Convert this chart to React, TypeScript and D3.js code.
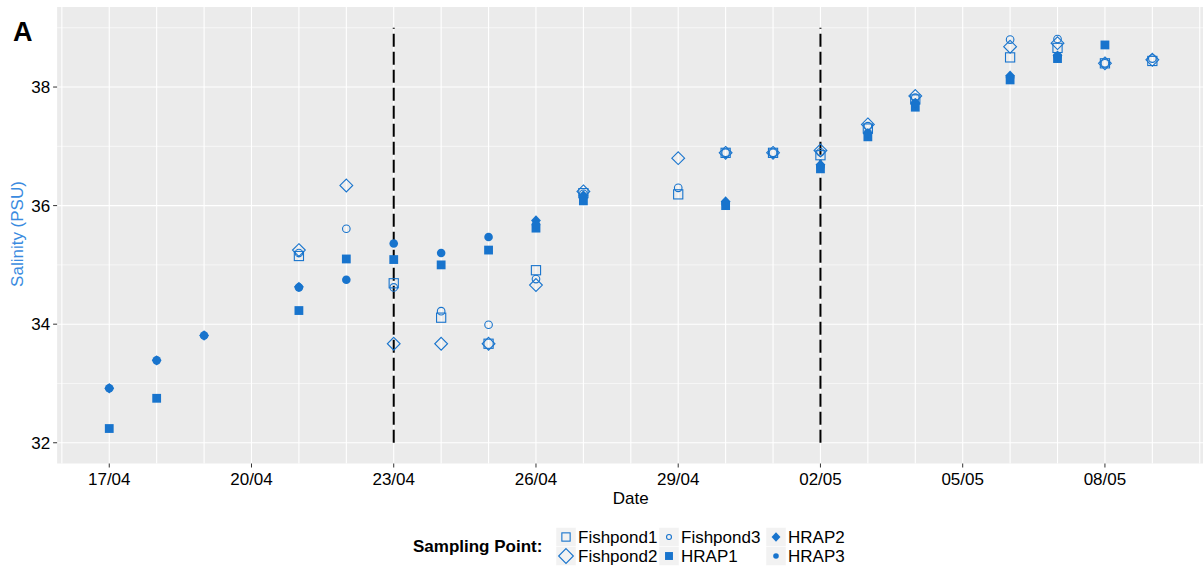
import React from "react";
import * as d3 from "d3";

const dates = ["17/04","18/04","19/04","21/04","22/04","23/04","24/04","25/04","26/04","27/04","29/04","30/04","01/05","02/05","03/05","04/05","06/05","07/05","08/05","09/05"];
const fishpond1 = [null,null,null,35.15,null,34.69,34.11,33.67,34.91,36.21,36.19,36.89,36.89,36.85,37.30,37.79,38.50,38.66,38.40,38.44];
const fishpond2 = [null,null,null,35.25,36.34,33.67,33.67,33.67,34.66,36.24,36.80,36.89,36.89,36.93,37.37,37.85,38.68,38.74,38.40,38.46];
const fishpond3 = [null,null,null,35.20,35.61,34.62,34.22,33.99,34.76,36.20,36.30,36.89,36.89,36.90,37.34,37.82,38.80,38.81,38.40,38.48];
const hrap1 = [32.24,32.75,null,34.23,35.10,35.09,35.00,35.25,35.62,36.08,null,36.00,null,36.62,37.16,37.66,38.12,38.48,38.71,null];
const hrap2 = [32.92,33.39,33.81,34.63,null,null,null,null,35.75,36.17,null,36.07,null,36.69,37.22,37.73,38.19,38.53,null,null];
const hrap3 = [32.92,33.39,33.81,34.62,34.75,35.36,35.20,35.47,35.68,36.14,null,36.03,null,36.66,37.22,37.73,38.16,38.52,null,null];
const xTickLabels = ["17/04","20/04","23/04","26/04","29/04","02/05","05/05","08/05"];
const yTicks = [32, 34, 36, 38];
const yMinor = [33, 35, 37, 39];
const eventDates = ["23/04", "02/05"];
const eventRange = [32, 39];

const seriesNames = ["Fishpond1","Fishpond2","Fishpond3","HRAP1","HRAP2","HRAP3"];
const seriesValues = [fishpond1, fishpond2, fishpond3, hrap1, hrap2, hrap3];

const COLOR = "#1874CD";
const parse = (s: string) => d3.timeParse("%d/%m/%Y")(s + "/2021") as Date;
const DAY = 86400000;

function Marker({ name, x, y, s = 1 }: { name: string; x: number; y: number; s?: number }) {
  const sw = 1.1;
  switch (name) {
    case "Fishpond1": {
      const h = 4.6 * s;
      return <rect x={x - h} y={y - h} width={2 * h} height={2 * h} fill="none" stroke={COLOR} strokeWidth={sw} />;
    }
    case "Fishpond2": {
      const h = 6.4 * s;
      return <path d={`M${x},${y - h}L${x + h},${y}L${x},${y + h}L${x - h},${y}Z`} fill="none" stroke={COLOR} strokeWidth={sw} />;
    }
    case "Fishpond3":
      return <circle cx={x} cy={y} r={3.8 * s} fill="none" stroke={COLOR} strokeWidth={sw} />;
    case "HRAP1": {
      const h = 4.4 * s;
      return <rect x={x - h} y={y - h} width={2 * h} height={2 * h} fill={COLOR} />;
    }
    case "HRAP2": {
      const h = 5.2 * s;
      return <path d={`M${x},${y - h}L${x + h * 0.95},${y}L${x},${y + h}L${x - h * 0.95},${y}Z`} fill={COLOR} />;
    }
    default:
      return <circle cx={x} cy={y} r={4.3 * s} fill={COLOR} />;
  }
}

export default function App() {
  const W = 1203, H = 570;
  const d0 = parse(dates[0]);
  const dEnd = parse(dates[dates.length - 1]);
  const span = (dEnd.getTime() - d0.getTime()) * 0.05;
  const x = d3.scaleTime()
    .domain([new Date(d0.getTime() - span), new Date(dEnd.getTime() + span)])
    .range([57.1, 1204.5]);
  const y = d3.scaleLinear().domain([31.65, 39.35]).range([463.5, 7]);
  const [px0, px1] = x.range();
  const [py1, py0] = y.range();

  const dayGrid = d3.timeDay.range(new Date(x.domain()[0].getTime()), x.domain()[1]).map(d => d3.timeDay.ceil(d));
  const uniqueDays = Array.from(new Set(dayGrid.map(d => d.getTime()))).map(t => new Date(t));

  const font = "'Liberation Sans', Arial, sans-serif";

  const legendCols = [
    [["Fishpond1", "Fishpond2"], 556],
    [["Fishpond3", "HRAP1"], 659],
    [["HRAP2", "HRAP3"], 766],
  ] as [string[], number][];
  const rowY = [537, 556];

  return (
    <svg width={W} height={H} style={{ position: "absolute", left: 0, top: 0 }} fontFamily={font}>
      <rect x={0} y={0} width={W} height={H} fill="white" />
      <rect x={px0} y={py0} width={px1 - px0} height={py1 - py0} fill="#EBEBEB" />
      {yMinor.map(v => (
        <line key={"ym" + v} x1={px0} x2={px1} y1={y(v)} y2={y(v)} stroke="white" strokeWidth={0.6} />
      ))}
      {uniqueDays.map(d => (
        <line key={"xg" + d.getTime()} x1={x(d)} x2={x(d)} y1={py0} y2={py1} stroke="white" strokeWidth={1.1} />
      ))}
      {yTicks.map(v => (
        <line key={"yg" + v} x1={px0} x2={px1} y1={y(v)} y2={y(v)} stroke="white" strokeWidth={1.1} />
      ))}
      {eventDates.map(d => (
        <line key={"ev" + d} x1={x(parse(d))} x2={x(parse(d))} y1={y(eventRange[0])} y2={y(eventRange[1])}
          stroke="black" strokeWidth={2} strokeDasharray="13,5" />
      ))}
      {seriesNames.map((name, si) =>
        seriesValues[si].map((v, i) =>
          v == null ? null : <Marker key={name + i} name={name} x={x(parse(dates[i]))} y={y(v)} />
        )
      )}
      {/* y axis */}
      {yTicks.map(v => (
        <g key={"yt" + v}>
          <line x1={px0 - 4} x2={px0} y1={y(v)} y2={y(v)} stroke="#333" strokeWidth={1} />
          <text x={px0 - 7} y={y(v)} dy="0.36em" textAnchor="end" fontSize={17} fill="#000">{v}</text>
        </g>
      ))}
      {xTickLabels.map(l => (
        <g key={"xt" + l}>
          <line x1={x(parse(l))} x2={x(parse(l))} y1={py1} y2={py1 + 4} stroke="#333" strokeWidth={1} />
          <text x={x(parse(l))} y={479} dy="0.36em" textAnchor="middle" fontSize={17} fill="#000">{l}</text>
        </g>
      ))}
      <text x={(px0 + px1) / 2} y={498} dy="0.36em" textAnchor="middle" fontSize={17} fill="#000">Date</text>
      <text transform={`translate(17,234) rotate(-90)`} dy="0.36em" textAnchor="middle" fontSize={17} fill="#3A8BE0">Salinity (PSU)</text>
      <text x={13} y={41} fontSize={27} fontWeight="bold" fill="#000">A</text>
      {/* legend */}
      <text x={413} y={546} dy="0.36em" fontSize={17} fontWeight="bold" fill="#000">Sampling Point:</text>
      {legendCols.map(([names, cx]) =>
        names.map((n, r) => (
          <g key={"lg" + n}>
            <rect x={cx} y={rowY[r] - 9.5} width={20} height={19} fill="#F2F2F2" stroke="white" strokeWidth={0.5} />
            <Marker name={n} x={cx + 10} y={rowY[r]} s={n === "Fishpond2" ? 1.15 : n === "Fishpond3" || n === "HRAP3" ? 0.65 : 0.9} />
            <text x={cx + 22} y={rowY[r]} dy="0.36em" fontSize={17} fill="#000">{n}</text>
          </g>
        ))
      )}
    </svg>
  );
}
